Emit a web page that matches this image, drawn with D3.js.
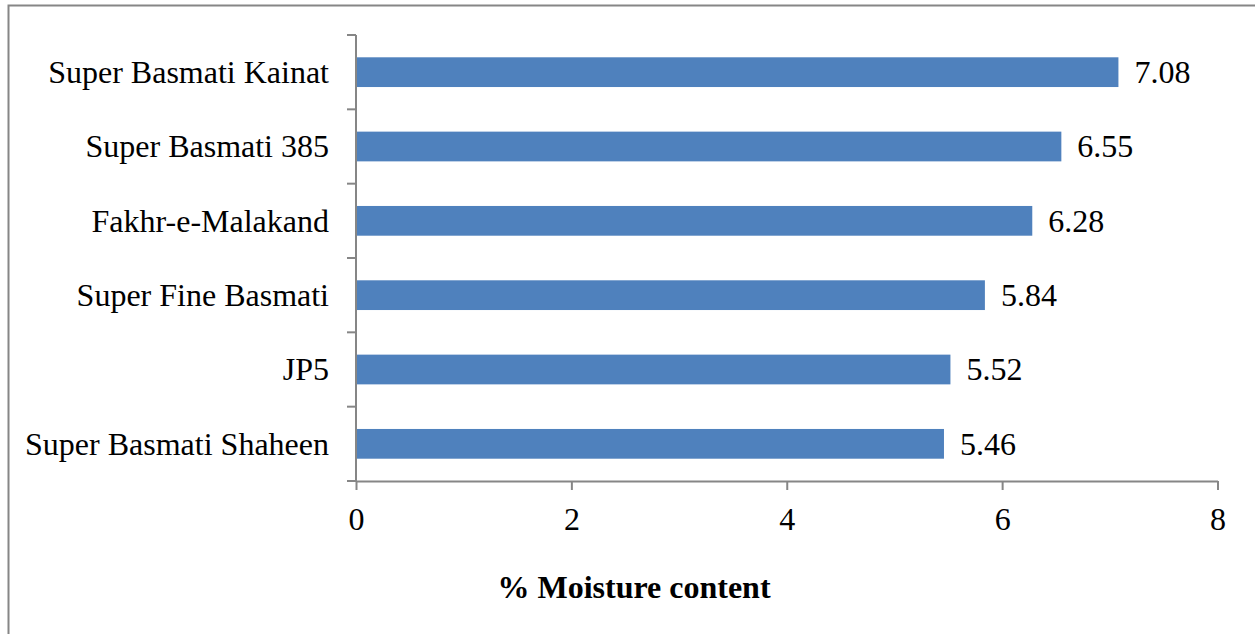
<!DOCTYPE html>
<html>
<head>
<meta charset="utf-8">
<script src="https://cdn.jsdelivr.net/npm/d3@7"></script>
<style>
  html, body { margin: 0; padding: 0; background: #fff; }
  svg { display: block; }
  text { font-family: "Liberation Serif", "Times New Roman", serif; fill: #000; }
</style>
</head>
<body>
<svg id="chart" width="1255" height="634"></svg>
<script>
// Rice varieties, listed top to bottom
const varieties = [
  "Super Basmati Kainat",
  "Super Basmati 385",
  "Fakhr-e-Malakand",
  "Super Fine Basmati",
  "JP5",
  "Super Basmati Shaheen"
];
// Moisture content (%) for each variety
const moisture = [7.08, 6.55, 6.28, 5.84, 5.52, 5.46];
const xTicks = [0, 2, 4, 6, 8];
const xTitle = "% Moisture content";

const svg = d3.select("#chart");
const axisColor = "#868686";
const barColor = "#4F81BD";
const fontSize = 32;

// Chart-area frame
svg.append("path")
  .attr("d", "M8.5,634 V5.5 H1255")
  .attr("fill", "none")
  .attr("stroke", "#868686")
  .attr("stroke-width", 2);

const plotLeft = 356, plotRight = 1217.5, plotTop = 35, plotBottom = 481;

const x = d3.scaleLinear().domain([0, 8]).range([plotLeft, plotRight]);
const y = d3.scaleBand().domain(varieties).range([plotTop, plotBottom]).paddingInner(0.6).paddingOuter(0.3);
const yBand = d3.scaleBand().domain(varieties).range([plotTop, plotBottom]);

const data = varieties.map((v, i) => ({ name: v, value: moisture[i] }));

// Bars
svg.append("g").selectAll("rect")
  .data(data)
  .join("rect")
  .attr("x", x(0))
  .attr("y", d => y(d.name))
  .attr("width", d => x(d.value) - x(0))
  .attr("height", y.bandwidth())
  .attr("fill", barColor);

// Value labels
svg.append("g").selectAll("text")
  .data(data)
  .join("text")
  .attr("x", d => x(d.value) + 16)
  .attr("y", d => y(d.name) + y.bandwidth() / 2)
  .attr("dy", "0.34em")
  .attr("font-size", fontSize)
  .text(d => d.value.toFixed(2));

// Y axis: vertical line with ticks between categories
const yAxis = svg.append("g");
yAxis.append("line")
  .attr("x1", plotLeft).attr("x2", plotLeft)
  .attr("y1", plotTop).attr("y2", plotBottom)
  .attr("stroke", axisColor).attr("stroke-width", 2);
const boundaries = varieties.map(v => yBand(v)).concat([plotBottom]);
yAxis.selectAll("line.tick")
  .data(boundaries)
  .join("line")
  .attr("class", "tick")
  .attr("x1", plotLeft - 9).attr("x2", plotLeft)
  .attr("y1", d => d).attr("y2", d => d)
  .attr("stroke", axisColor).attr("stroke-width", 2);
yAxis.selectAll("text")
  .data(varieties)
  .join("text")
  .attr("x", 329)
  .attr("y", d => yBand(d) + yBand.bandwidth() / 2)
  .attr("dy", "0.34em")
  .attr("text-anchor", "end")
  .attr("font-size", fontSize)
  .text(d => d);

// X axis
const xAxis = svg.append("g")
  .attr("transform", `translate(0,${plotBottom})`)
  .call(d3.axisBottom(x).tickValues(xTicks).tickSize(9).tickSizeOuter(0).tickPadding(17).tickFormat(d3.format("d")));
xAxis.select(".domain").attr("stroke", axisColor).attr("stroke-width", 2);
xAxis.selectAll(".tick line").attr("stroke", axisColor).attr("stroke-width", 2);
xAxis.selectAll(".tick text")
  .attr("font-size", fontSize)
  .attr("font-family", "Liberation Serif, Times New Roman, serif")
  .attr("fill", "#000");

// X axis title
svg.append("text")
  .attr("x", 634)
  .attr("y", 598)
  .attr("text-anchor", "middle")
  .attr("font-size", fontSize)
  .attr("font-weight", "bold")
  .text(xTitle);
</script>
</body>
</html>
